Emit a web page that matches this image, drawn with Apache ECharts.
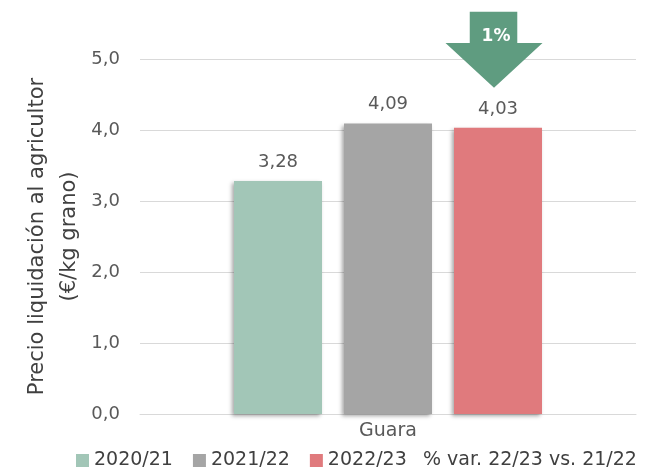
<!DOCTYPE html>
<html>
<head>
<meta charset="utf-8">
<script src="https://cdn.jsdelivr.net/npm/echarts@6/dist/echarts.min.js"></script>
<style>
  html, body { margin: 0; padding: 0; background: #fff; }
  #chart { width: 648px; height: 470px; }
</style>
</head>
<body>
<div id="chart"></div>
<script>
const categories = ['Guara'];
const seasons = ['2020/21', '2021/22', '2022/23'];
const prices = [3.28, 4.09, 4.03];
const seasonColors = ['#a2c6b7', '#a5a5a5', '#e07a7d'];
const varLabel = '% var. 22/23 vs. 21/22';
const varText = ['1%'];
const arrowLevel = [5.13]; // where the arrow sits on the value axis

const fmt = v => v.toFixed(2).replace('.', ',');
const font = '"DejaVu Sans", sans-serif';

const chart = echarts.init(document.getElementById('chart'));

const barSeries = seasons.map(function (name, i) {
  return {
    name: name,
    type: 'bar',
    barWidth: 88,
    barGap: '25%',
    data: [prices[i]],
    itemStyle: {
      color: seasonColors[i],
      shadowColor: 'rgba(0,0,0,0.35)',
      shadowBlur: 4,
      shadowOffsetX: -2,
      shadowOffsetY: 2
    },
    label: {
      show: true,
      position: 'top',
      distance: 10,
      color: '#595959',
      fontSize: 18,
      fontFamily: font,
      formatter: p => fmt(p.value)
    }
  };
});

chart.setOption({
  animation: false,
  grid: { left: 140, right: 12, top: 59, bottom: 56 },
  legend: [{
    top: 451,
    left: 76,
    padding: 0,
    itemWidth: 13,
    itemHeight: 13,
    itemGap: 20,
    textStyle: { color: '#404040', fontSize: 19, fontFamily: font },
    data: seasons.map(s => ({ name: s, icon: 'rect' }))
  }, {
    top: 451,
    left: 418,
    padding: 0,
    itemWidth: 0,
    itemHeight: 13,
    textStyle: { color: '#404040', fontSize: 19, fontFamily: font },
    data: [{ name: varLabel, icon: 'none' }]
  }],
  xAxis: {
    type: 'category',
    data: categories,
    axisLine: { lineStyle: { color: '#d9d9d9' } },
    axisTick: { show: false },
    axisLabel: { color: '#595959', fontSize: 19, fontFamily: font, margin: 8 }
  },
  yAxis: {
    type: 'value',
    min: 0,
    max: 5,
    interval: 1,
    name: 'Precio liquidación al agricultor\n(€/kg grano)',
    nameLocation: 'middle',
    nameRotate: 90,
    nameGap: 54,
    nameMoveOverlap: false,
    nameTextStyle: { color: '#404040', fontSize: 21, fontFamily: font, lineHeight: 32 },
    axisLine: { show: false },
    axisTick: { show: false },
    splitLine: { lineStyle: { color: '#d9d9d9', width: 1 } },
    axisLabel: {
      color: '#595959',
      fontSize: 18,
      fontFamily: font,
      margin: 20,
      formatter: v => v.toFixed(1).replace('.', ',')
    }
  },
  series: barSeries.concat([{
    name: varLabel,
    type: 'scatter',
    data: arrowLevel,
    clip: false,
    z: 5,
    symbol: 'path://M25,0 L74,0 L74,41 L100,41 L50,100 L0,41 L25,41 Z',
    symbolSize: [97, 76],
    symbolOffset: [106, 0],
    itemStyle: { color: '#5f9c80', opacity: 1 },
    label: {
      show: true,
      position: 'inside',
      offset: [2, -13],
      color: '#ffffff',
      fontSize: 17,
      fontWeight: 'bold',
      fontFamily: font,
      formatter: p => varText[p.dataIndex]
    }
  }])
});
</script>
</body>
</html>
